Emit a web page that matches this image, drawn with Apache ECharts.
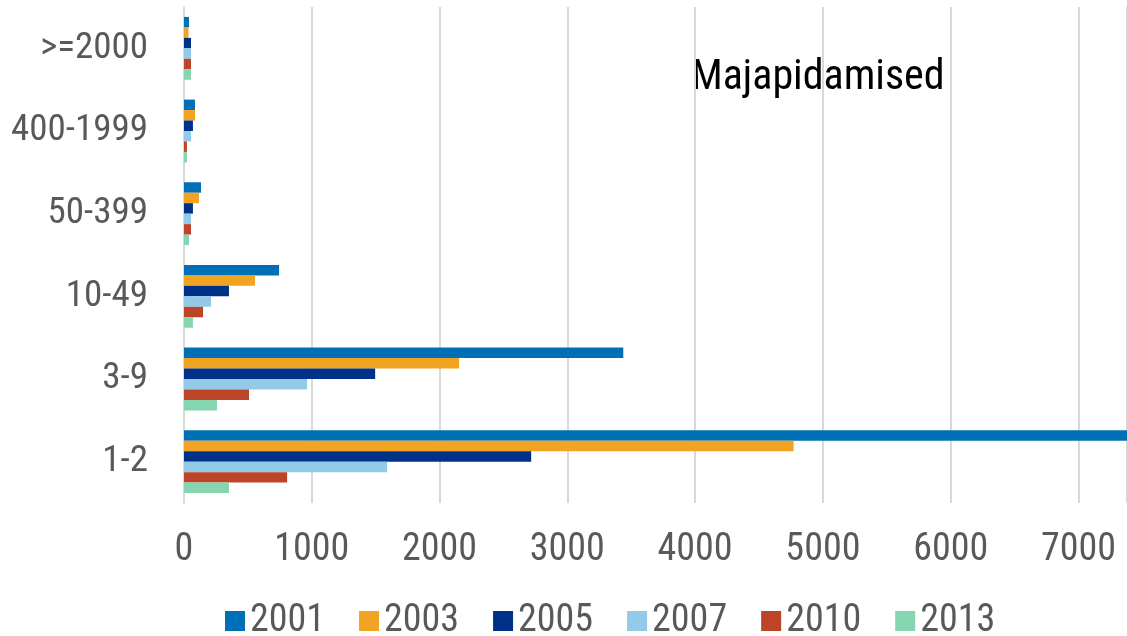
<!DOCTYPE html>
<html>
<head>
<meta charset="utf-8">
<script src="https://cdn.jsdelivr.net/npm/echarts@6/dist/echarts.min.js"></script>
<style>
  html, body { margin: 0; padding: 0; background: #fff; }
  #chart { width: 1127px; height: 636px; }
</style>
</head>
<body>
<div id="chart"></div>
<script>
// kategooriad ülevalt alla (yAxis on inverse)
const categories = ['>=2000', '400-1999', '50-399', '10-49', '3-9', '1-2']

// aastad / seeriad
const years = ['2001', '2003', '2005', '2007', '2010', '2013']

// väärtused iga aasta kohta, samas järjekorras mis categories
const data2001 = [39, 86, 133, 744, 3438, 7400]
const data2003 = [35, 86, 117, 556, 2153, 4771]
const data2005 = [55, 70, 70, 352, 1496, 2717]
const data2007 = [55, 55, 55, 211, 963, 1590]
const data2010 = [55, 23, 55, 149, 509, 807]
const data2013 = [55, 23, 39, 70, 258, 352]

// x-telje märgendid
const xTicks = [0, 1000, 2000, 3000, 4000, 5000, 6000, 7000]

const seriesData = [data2001, data2003, data2005, data2007, data2010, data2013]
const colors = ['#0070B6', '#F1A322', '#003189', '#92CAE8', '#BC4429', '#85D5B1']

const font = "'Liberation Sans Narrow', 'Roboto Condensed', Roboto, sans-serif"

const chart = echarts.init(document.getElementById('chart'))

const option = {
  animation: false,
  color: colors,
  title: {
    text: 'Majapidamised',
    left: 686,
    top: 52,
    z: -1,
    textStyle: {
      fontFamily: font,
      fontSize: 42,
      fontWeight: 'normal',
      color: '#000'
    }
  },
  legend: {
    data: years,
    left: 225,
    top: 602,
    padding: 0,
    itemWidth: 20,
    itemHeight: 20,
    itemGap: 34,
    icon: 'rect',
    textStyle: {
      fontFamily: font,
      fontSize: 38,
      color: '#595959',
      padding: [0, 0, 0, 0]
    }
  },
  grid: {
    left: 184,
    right: 0,
    top: 7,
    bottom: 133,
    containLabel: false
  },
  xAxis: {
    type: 'value',
    min: xTicks[0],
    max: 7380,
    interval: 1000,
    axisLine: { show: false },
    axisTick: { show: false },
    splitLine: {
      show: true,
      lineStyle: { color: '#D9D9D9', width: 2 }
    },
    axisLabel: {
      margin: 28,
      showMaxLabel: false,
      fontFamily: font,
      fontSize: 38,
      color: '#595959',
      formatter: (v) => (xTicks.indexOf(v) >= 0 ? String(v) : '')
    }
  },
  yAxis: {
    type: 'category',
    inverse: true,
    data: categories,
    axisTick: { show: false },
    axisLine: {
      show: true,
      lineStyle: { color: '#D9D9D9', width: 2 }
    },
    axisLabel: {
      margin: 36,
      fontFamily: font,
      fontSize: 37,
      color: '#595959'
    }
  },
  series: years.map((y, i) => ({
    name: y,
    type: 'bar',
    data: seriesData[i],
    barGap: '0%',
    barCategoryGap: '24%',
    clip: true,
    z: 3
  }))
}

chart.setOption(option)
</script>
</body>
</html>
